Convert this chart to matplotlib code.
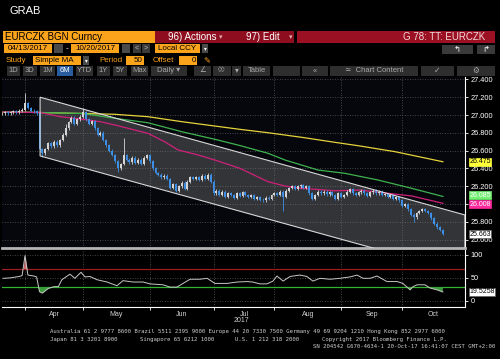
import matplotlib
matplotlib.use("Agg")
import matplotlib.pyplot as plt
from matplotlib.patches import Rectangle, Polygon
import numpy as np
import pandas as pd

plt.rcParams['font.family'] = ['Liberation Sans', 'DejaVu Sans']

# EURCZK daily closes, one per business day 2017-03-20 .. 2017-10-20
dates = pd.bdate_range('2017-03-20', '2017-10-20')
closes = [
    27.02, 27.02, 27.02, 27.03, 27.02, 27.03, 27.04, 27.03, 27.05, 27.06,
    27.13, 27.08, 27.05, 27.04, 27.02, 26.62, 26.57, 26.62, 26.68, 26.65,
    26.70, 26.66, 26.72, 26.78, 26.85, 26.92, 26.97, 26.90, 26.95, 26.98,
    27.03, 26.95, 26.90, 26.93, 26.85, 26.78, 26.80, 26.72, 26.66, 26.60,
    26.55, 26.48, 26.40, 26.45, 26.55, 26.50, 26.47, 26.52, 26.46, 26.50,
    26.45, 26.52, 26.55, 26.48, 26.40, 26.35, 26.33, 26.30, 26.32, 26.28,
    26.18, 26.22, 26.15, 26.20, 26.24, 26.17, 26.25, 26.30, 26.28, 26.30,
    26.27, 26.32, 26.28, 26.33, 26.25, 26.12, 26.15, 26.10, 26.14, 26.08,
    26.12, 26.10, 26.07, 26.12, 26.09, 26.13, 26.10, 26.08, 26.10, 26.06,
    26.08, 26.05, 26.04, 26.07, 26.06, 26.10, 26.12, 26.10, 26.14, 26.08,
    26.15, 26.18, 26.20, 26.17, 26.20, 26.21, 26.18, 26.20, 26.12, 26.06,
    26.10, 26.14, 26.12, 26.14, 26.11, 26.13, 26.10, 26.06, 26.12, 26.08,
    26.10, 26.14, 26.17, 26.12, 26.10, 26.13, 26.15, 26.12, 26.09, 26.13,
    26.15, 26.12, 26.14, 26.10, 26.11, 26.08, 26.10, 26.06, 26.08, 26.04,
    25.98, 26.00, 25.94, 25.88, 25.85, 25.90, 25.92, 25.94, 25.92, 25.90,
    25.84, 25.78, 25.74, 25.71, 25.663,
]
# notable wicks (bar index -> price)
spike_highs = {10: 27.25, 24: 26.90, 30: 27.08, 44: 26.74}
spike_lows = {16: 26.53, 42: 26.36, 99: 25.92, 144: 25.80}

# moving averages (bar index, value)
ma_x = {
    'ma200': [2.4, 15.2, 30.0, 41.0, 52.4, 64.1, 75.5, 84.1, 93.8, 105.5, 116.9, 125.5, 137.6, 154.1],
    'ma100': [2.4, 15.2, 30.0, 41.0, 52.4, 64.1, 75.5, 84.1, 93.8, 99.7, 111.0, 120.3, 131.7, 143.4, 154.1],
    'ma50': [2.4, 15.2, 22.1, 30.0, 35.9, 41.0, 52.4, 58.3, 62.8, 69.7, 75.5, 84.1, 93.8, 99.7, 105.5,
             116.9, 125.5, 143.4, 154.1],
}
ma_y = {
    'ma200': [27.034, 27.028, 27.017, 27.008, 26.981, 26.925, 26.876, 26.839, 26.801, 26.749, 26.693,
              26.652, 26.588, 26.475],
    'ma100': [27.034, 27.028, 27.017, 26.963, 26.913, 26.812, 26.727, 26.657, 26.570, 26.494, 26.382,
              26.345, 26.270, 26.176, 26.085],
    'ma50': [27.034, 27.028, 26.981, 26.952, 26.925, 26.888, 26.794, 26.697, 26.607, 26.551, 26.494,
             26.401, 26.251, 26.202, 26.176, 26.149, 26.157, 26.090, 26.008],
}

# trend channel corners
chan_x = [15.2, 161.7]
chan_top = [27.20, 25.877]
chan_bot = [26.54, 25.22]

# RSI (bar index, value)
rsi_x = [2.4, 5, 8, 9, 10, 11, 13, 14, 15, 16, 17, 18, 20, 21.5, 22.7, 25.5, 27.2, 29.3, 30.7, 32.4,
         34.8, 38.3, 41.7, 43.8, 47.2, 50.7, 53.1, 57.6, 60, 62.4, 64.5, 66.9, 70.3, 72.8, 75.5, 79.7,
         83.1, 86.6, 88.5, 91.0, 93.4, 95.5, 96.9, 99, 101.4, 104.8, 107.2, 109.3, 111.7, 115.2, 118.6,
         122.1, 124.5, 126.6, 129, 131.4, 134.8, 138.3, 140.3, 142.8, 143.8, 145.2, 147.9, 149.7, 152.1,
         154.1]
rsi_y = [49, 50, 53, 55, 98, 56, 54, 52, 20, 17, 22, 27, 31, 31, 46, 58, 49, 62, 52, 53,
         46, 41, 33, 44, 41, 41, 37, 35, 30, 30, 38, 47, 47, 49, 38, 38,
         41, 42, 41, 37, 37, 43, 54, 43, 53, 56, 53, 43, 49, 47, 49,
         52, 56, 49, 49, 54, 42, 42, 38, 24, 31, 35, 35, 28, 24,
         19.5258]

price_ticks = [25.6, 25.8, 26.0, 26.2, 26.4, 26.6, 26.8, 27.0, 27.2, 27.4]
hidden_ticks = [26.0]  # covered by the value flags in the original
rsi_ticks = [0, 50, 100]

ORANGE = '#fba31b'
GREY_BTN = '#2e2e2e'
W, H = 500, 359

fig = plt.figure(figsize=(W / 100, H / 100), dpi=100, facecolor='black')

# ---- header / footer drawn in pixel space
hdr = fig.add_axes([0, 0, 1, 1])
hdr.set_xlim(0, W)
hdr.set_ylim(H, 0)
hdr.axis('off')


def box(x0, x1, y0, y1, color):
    hdr.add_patch(Rectangle((x0, y0), x1 - x0, y1 - y0, color=color, lw=0))


def label(x, y, s, color, size=6, ha='left', **kw):
    hdr.text(x, y, s, color=color, fontsize=size, ha=ha, va='center', **kw)


label(9, 11, 'GRAB', 'white', size=8)

box(3, 155, 31, 43, ORANGE)
label(5, 37, 'EURCZK BGN Curncy', 'black', size=7)
box(155, 294, 31, 43, '#8e0d1e')
label(168, 37, '96) Actions', 'white', size=7)
label(219, 37, '▾', '#e0b0b0', size=5, family='DejaVu Sans')
label(246, 37, '97) Edit', 'white', size=7)
label(289, 37, '▾', '#e0b0b0', size=5, family='DejaVu Sans')
box(297, 495, 31, 43, '#9b1022')
label(485, 37, 'G 78: TT: EURCZK', '#f4d8d8', size=7, ha='right')

box(4, 52, 44, 53, ORANGE)
label(28, 48.5, '04/13/2017', 'black', size=5.8, ha='center')
box(54, 63, 44, 53, '#4a4a4a')
label(67, 48.5, '-', 'white', size=6, ha='center')
box(71, 119, 44, 53, ORANGE)
label(95, 48.5, '10/20/2017', 'black', size=5.8, ha='center')
box(122, 130, 44, 53, '#4a4a4a')
box(133, 141, 44, 53, '#3a3a3a')
label(137, 48.5, '<', '#c0c0c0', size=5, ha='center')
box(142, 150, 44, 53, '#3a3a3a')
label(146, 48.5, '>', '#c0c0c0', size=5, ha='center')
box(155, 200, 44, 53, ORANGE)
label(158, 48.5, 'Local CCY', 'black', size=5.8)
box(202, 208, 44, 53, '#4a4a4a')
label(205, 48.5, '▾', 'white', size=4, ha='center', family='DejaVu Sans')
box(442, 473, 45, 54, '#3a3a3a')
label(457, 49.5, '↰', 'white', size=6, ha='center', family='DejaVu Sans')
box(477, 495, 45, 54, '#3a3a3a')
label(486, 49.5, '↱', 'white', size=6, ha='center', family='DejaVu Sans')

label(6, 60.5, 'Study', ORANGE, size=5.8)
box(33, 81, 56, 65, ORANGE)
label(35, 60.5, 'Simple MA', 'black', size=5.8)
box(83, 89, 56, 65, '#4a4a4a')
label(86, 60.5, '▾', 'white', size=4, ha='center', family='DejaVu Sans')
label(99, 60.5, 'Period', ORANGE, size=5.8)
box(126, 144, 56, 65, ORANGE)
label(143, 60.5, '50', 'black', size=5.8, ha='right')
label(153, 60.5, 'Offset', ORANGE, size=5.8)
box(179, 197, 56, 65, ORANGE)
label(196, 60.5, '0', 'black', size=5.8, ha='right')
label(207, 60.5, '✎', ORANGE, size=6, ha='center', family='DejaVu Sans')

buttons = [(7, 20, '1D'), (23, 37, '3D'), (40, 55, '1M'), (57, 73, '6M'), (76, 93, 'YTD'),
           (97, 110, '1Y'), (113, 127, '5Y'), (131, 148, 'Max'), (151, 187, 'Daily ▾'),
           (194, 211, '∠'), (213, 231, '◊◊'), (232, 241, '▾'), (243, 270, 'Table'),
           (273, 300, ''), (302, 328, '«'), (330, 418, '≃  Chart Content'), (421, 454, '✓'),
           (457, 495, '⚙')]
for x0, x1, txt in buttons:
    active = txt == '6M'
    box(x0, x1, 66, 76, '#2a5d9f' if active else GREY_BTN)
    label((x0 + x1) / 2, 71, txt, 'white' if active else '#a8a8a8', size=5.5, ha='center',
          family=['Liberation Sans', 'DejaVu Sans'])

mono = dict(family='DejaVu Sans Mono', size=4.1)
label(50, 332, 'Australia 61 2 9777 8600 Brazil 5511 2395 9000 Europe 44 20 7330 7500 '
               'Germany 49 69 9204 1210 Hong Kong 852 2977 6000', '#d0d0d0', **mono)
label(50, 339.3, 'Japan 81 3 3201 8900', '#d0d0d0', **mono)
label(140, 339.3, 'Singapore 65 6212 1000', '#d0d0d0', **mono)
label(235, 339.3, 'U.S. 1 212 318 2000', '#d0d0d0', **mono)
label(322, 339.3, 'Copyright 2017 Bloomberg Finance L.P.', '#d0d0d0', **mono)
label(495, 346, 'SN 204542 G670-4634-1 20-Oct-17 16:41:07 CEST GMT+2:00', '#d0d0d0', ha='right', **mono)
label(234, 320.5, '2017', '#d0d0d0', size=5)

# ---- axes geometry (pixels)
x_left, x_right = 2, 465
px_per_bar, px_bar0 = 2.9, -4
xlim = ((x_left - px_bar0) / px_per_bar, (x_right - px_bar0) / px_per_bar)


def frame(top, bottom):
    return [x_left / W, 1 - bottom / H, (x_right - x_left) / W, (bottom - top) / H]


ax = fig.add_axes(frame(77, 248))
ax.set_facecolor('#05070d')
ax.set_xlim(*xlim)
ax.set_ylim(25.506, 27.427)
rax = fig.add_axes(frame(250, 306.5))
rax.set_facecolor('black')
rax.set_xlim(*xlim)
rax.set_ylim(-11.9, 110.2)

# month boundaries from the dates
idx = np.arange(len(dates))
month_start = [i for i in idx[1:] if dates[i].month != dates[i - 1].month]
bounds = month_start + [xlim[1]]
month_mid = [(a + b) / 2 for a, b in zip(bounds[:-1], bounds[1:])]
month_lab = [dates[i].strftime('%b') for i in month_start]

grid_kw = dict(color='#5a5a5a', lw=0.6, ls=(0, (1, 2)))
for a in (ax, rax):
    for s in ('top', 'left'):
        a.spines[s].set_visible(False)
    a.spines['right'].set_color('white')
    a.spines['right'].set_linewidth(0.8)
    a.yaxis.tick_right()
    a.tick_params(axis='y', colors='white', labelsize=5.3, length=2.5, width=0.6, pad=1.5)
    a.set_xticks(month_start)
    a.grid(True, **grid_kw)
    a.set_axisbelow(True)

ax.spines['bottom'].set_color('#b4b4b4')
ax.spines['bottom'].set_linewidth(2)
ax.tick_params(axis='x', length=0, labelbottom=False)
ax.set_yticks(price_ticks)
ax.set_yticklabels(['' if t in hidden_ticks else '%.3f' % t for t in price_ticks])

rax.spines['bottom'].set_color('white')
rax.spines['bottom'].set_linewidth(0.8)
rax.set_yticks(rsi_ticks)
rax.set_xticks(month_start)
rax.set_xticklabels([])
rax.set_xticks(month_mid, minor=True)
rax.set_xticklabels(month_lab, minor=True)
rax.tick_params(axis='x', which='major', colors='white', length=2.5, width=0.6, direction='out')
rax.tick_params(axis='x', which='minor', length=0, colors='#d0d0d0', labelsize=5, pad=3)

# ---- channel
corners = [(chan_x[0], chan_top[0]), (chan_x[1], chan_top[1]),
           (chan_x[1], chan_bot[1]), (chan_x[0], chan_bot[0])]
ax.add_patch(Polygon(corners, closed=True, fc='#8a8a8a', alpha=0.35, ec='none', zorder=1))
ax.add_patch(Polygon(corners, closed=True, fc='none', ec='#d8d8d8', lw=0.8, zorder=4))

# ---- moving averages
ax.plot(ma_x['ma200'], ma_y['ma200'], color='#e6d23a', lw=0.9, zorder=2)
ax.plot(ma_x['ma100'], ma_y['ma100'], color='#3fb34f', lw=0.9, zorder=2)
ax.plot(ma_x['ma50'], ma_y['ma50'], color='#d0207a', lw=0.9, zorder=2)

# ---- candles
c = np.array(closes)
o = np.concatenate([[c[0]], c[:-1]])
hi = np.maximum(o, c) + 0.015
lo = np.minimum(o, c) - 0.015
for i, v in spike_highs.items():
    hi[i] = v
for i, v in spike_lows.items():
    lo[i] = v
cols = np.where(c < o, '#3d8fe6', '#d4d4d4')
body = np.maximum(np.abs(c - o), 0.008)
ax.vlines(idx, lo, hi, colors=cols, lw=0.6, zorder=3)
ax.bar(idx, body, bottom=np.minimum(o, c), width=0.65, color=cols, lw=0, zorder=3)


def tag(a, y, text, bg, fg, ec=None, nudge=0):
    # value flag on the right axis; nudge (pixels) keeps neighbouring flags apart
    a.annotate(text, xy=(1, y), xycoords=a.get_yaxis_transform(),
               xytext=(3, nudge * 0.72), textcoords='offset points',
               ha='left', va='center', fontsize=5, color=fg, annotation_clip=False, zorder=10,
               bbox=dict(boxstyle='square,pad=0.06', fc=bg, ec=ec or bg, lw=0.5))


tag(ax, ma_y['ma200'][-1], '%.3f' % ma_y['ma200'][-1], '#ffff3a', 'black')
tag(ax, ma_y['ma100'][-1], '%.3f' % ma_y['ma100'][-1], '#72f072', 'white', nudge=1.3)
tag(ax, ma_y['ma50'][-1], '%.3f' % ma_y['ma50'][-1], '#ff2a9d', 'white', nudge=-0.8)
tag(ax, closes[-1], '%.3f' % closes[-1], 'white', 'black', ec='#606060')

# ---- RSI
ry = np.array(rsi_y, dtype=float)
rx = np.array(rsi_x, dtype=float)
rax.axhline(70, color='#9a1c1c', lw=0.9, zorder=2)
rax.axhline(30, color='#33b533', lw=0.9, zorder=2)
rax.fill_between(rx, ry, 70, where=ry > 70, interpolate=True, color='#c86868', lw=0, zorder=2)
rax.fill_between(rx, ry, 30, where=ry < 30, interpolate=True, color='#3c9c3c', lw=0, zorder=2)
rax.plot(rx, ry, color='#c8c8c8', lw=0.7, zorder=3)
tag(rax, rsi_y[-1], '%.4f' % rsi_y[-1], 'white', 'black', ec='#606060')

fig.savefig('out.png', dpi=100, facecolor='black')
